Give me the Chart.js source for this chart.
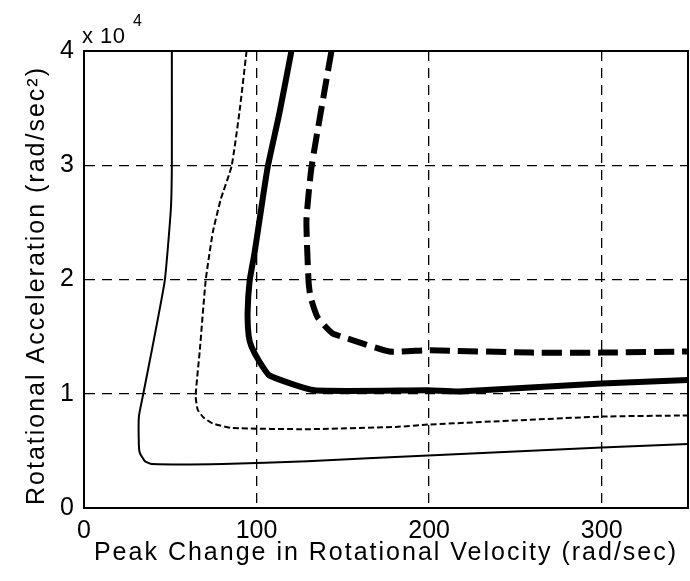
<!DOCTYPE html>
<html>
<head>
<meta charset="utf-8">
<script src="https://cdn.jsdelivr.net/npm/chart.js@4/dist/chart.umd.min.js"></script>
<style>
html,body{margin:0;padding:0;background:#fff;}
canvas{display:block;}
</style>
</head>
<body>
<canvas id="c" width="690" height="581"></canvas>
<script>
// ---- data (x: rad/sec, y: rad/sec^2) ----
const xTicks = [0, 100, 200, 300];
const yTicks = [0, 10000, 20000, 30000, 40000];
const xTitle = "Peak Change in Rotational Velocity (rad/sec)";
const yTitle = "Rotational Acceleration (rad/sec\u00B2)";

const thinSolidX = [50.9, 50.9, 50.3, 46.8, 39.3, 34.1, 31.8, 31.8, 32.4, 35.3, 39.3, 80.3, 129.5, 199.4, 300, 350];
const thinSolidY = [40000, 29900, 26100, 19900, 13800, 9800, 8000, 5500, 4800, 4100, 3850, 3850, 4100, 4600, 5300, 5600];

const thinDashX = [94.2, 90.2, 85.5, 79.2, 74.6, 70.5, 67.1, 64.7, 65.9, 69.4, 74.6, 86.1, 129.5, 180.9, 199.4, 300, 350];
const thinDashY = [40000, 34800, 29900, 27000, 24100, 19900, 13800, 9800, 8600, 7900, 7400, 7000, 6900, 7100, 7300, 8000, 8100];

const thickSolidX = [120.2, 113.3, 106.4, 101.7, 98.8, 96.0, 94.8, 95.4, 97.1, 101.7, 107.5, 133.5, 199.4, 217.3, 300, 350];
const thickSolidY = [40000, 34600, 29800, 25200, 22300, 19900, 17100, 15100, 14100, 12800, 11600, 10300, 10300, 10200, 10900, 11200];

const thickDashX = [143.4, 140.5, 131.8, 128.9, 130.1, 131.2, 135.3, 143.9, 155.5, 176.9, 199.4, 259.5, 300, 350];
const thickDashY = [40000, 37500, 29800, 25200, 19900, 18500, 16700, 15300, 14700, 13700, 13800, 13600, 13600, 13700];

const FONT = '"Liberation Sans", Arial, Helvetica, sans-serif';

function pts(xs, ys) { return xs.map((x, i) => ({x: x, y: ys[i]})); }

function line(xs, ys, width, dash) {
  return {
    data: pts(xs, ys),
    showLine: true,
    borderColor: '#000',
    backgroundColor: '#000',
    borderWidth: width,
    borderDash: dash,
    borderCapStyle: 'butt',
    borderJoinStyle: 'round',
    pointRadius: 0,
    pointHoverRadius: 0,
    tension: 0.15,
    fill: false,
    clip: 0
  };
}

const decor = {
  id: 'decor',
  afterDraw(chart) {
    const ctx = chart.ctx, a = chart.chartArea;
    ctx.save();
    ctx.setLineDash([]);
    ctx.strokeStyle = '#000';
    ctx.lineWidth = 2;
    ctx.strokeRect(a.left, a.top, a.right - a.left, a.bottom - a.top);
    ctx.fillStyle = '#000';
    ctx.font = '25px ' + FONT;
    try { ctx.letterSpacing = '2px'; } catch (e) {}
    ctx.textAlign = 'center';
    ctx.textBaseline = 'alphabetic';
    ctx.fillText(xTitle, (a.left + a.right) / 2, a.bottom + 52);
    ctx.save();
    ctx.translate(a.left - 40, (a.top + a.bottom) / 2 + 6);
    ctx.rotate(-Math.PI / 2);
    ctx.fillText(yTitle, 0, 0);
    ctx.restore();
    try { ctx.letterSpacing = '0.5px'; } catch (e) {}
    ctx.textAlign = 'left';
    ctx.font = '22px ' + FONT;
    ctx.fillText('x 10', a.left - 2, a.top - 8);
    ctx.font = '16px ' + FONT;
    ctx.fillText('4', a.left + 49, a.top - 25);
    ctx.restore();
  }
};

new Chart(document.getElementById('c'), {
  type: 'scatter',
  data: {
    datasets: [
      line(thinSolidX, thinSolidY, 2, []),
      line(thinDashX, thinDashY, 2, [6, 3]),
      line(thickSolidX, thickSolidY, 6, []),
      line(thickDashX, thickDashY, 6, [20, 8])
    ]
  },
  options: {
    responsive: false,
    animation: false,
    devicePixelRatio: 1,
    layout: { padding: { top: 51, right: 2, left: 0, bottom: 0 } },
    plugins: { legend: { display: false }, tooltip: { enabled: false } },
    scales: {
      x: {
        type: 'linear', min: 0, max: 350,
        afterBuildTicks: s => { s.ticks = xTicks.map(v => ({value: v})); },
        afterFit: s => { s.height = 73; },
        ticks: { color: '#000', font: { family: FONT, size: 25 }, padding: 8, maxRotation: 0, autoSkip: false },
        grid: { color: '#000', lineWidth: 1.3, drawTicks: false },
        border: { display: true, color: '#000', width: 2, dash: [10, 7] }
      },
      y: {
        type: 'linear', min: 0, max: 40000,
        afterBuildTicks: s => { s.ticks = yTicks.map(v => ({value: v})); },
        afterFit: s => { s.width = 84; },
        ticks: { color: '#000', font: { family: FONT, size: 25 }, padding: 10, callback: v => String(v / 10000) },
        grid: { color: '#000', lineWidth: 1.3, drawTicks: false },
        border: { display: true, color: '#000', width: 2, dash: [10, 7] }
      }
    }
  },
  plugins: [decor]
});
</script>
</body>
</html>
